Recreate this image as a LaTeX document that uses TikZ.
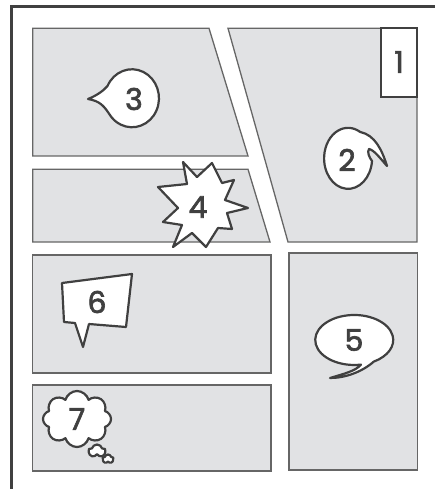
\documentclass[tikz,border=0pt]{standalone}
\usepackage{fontspec}
\setmainfont{Poppins}
\newfontfamily\digitfont{Poppins}[FakeBold=2.2]
\usetikzlibrary{shapes.symbols}
\definecolor{panelgray}{HTML}{E1E2E4}
\definecolor{edgegray}{HTML}{666666}
\definecolor{inkgray}{HTML}{404040}
\tikzset{
  panel/.style={draw=edgegray, line width=1.3pt, fill=panelgray},
  bubble/.style={draw=inkgray, line width=2.2pt, fill=white, line join=round},
  digit/.style={text=inkgray, font=\digitfont\fontsize{30}{30}\selectfont, inner sep=0pt}
}
\begin{document}
\begin{tikzpicture}[x=1pt, y=1pt, yscale=-1,
        frame/.style={draw=inkgray, line width=3pt},
        puff/.style={bubble, cloud, cloud puffs=9, aspect=1.2, inner sep=0pt}
    ]
        \useasboundingbox (0,0) rectangle (435,489);

        % Marco exterior (solo arriba e izquierda)
        \draw[frame] (11,489) -- (11,7) -- (435,7);

        % Paneles
        \draw[panel] (32.7,28.3) -- (209,28.3) -- (248,156) -- (32.7,156) -- cycle;
        \draw[panel] (32.7,169.3) -- (248,169.3) -- (270,242) -- (32.7,242) -- cycle;
        \draw[panel] (228,28.3) -- (417,28.3) -- (417,242) -- (288,242) -- cycle;
        \draw[panel] (32.7,255) rectangle (271,373);
        \draw[panel] (32.7,385) rectangle (271,471);
        \draw[panel] (289,253) rectangle (417.5,470);

        % Caja 1
        \draw[panel, fill=white, draw=inkgray, line width=1.8pt] (381,28.3) rectangle (417,97);
        \node[digit] (n1) at (399,62) {1};

        % Globo 3 (cola a la izquierda)
        \draw[bubble] (88,99) .. controls (98,95) and (104,90) .. (107.5,86)
            arc[start angle=205, end angle=505, x radius=27, y radius=29]
            .. controls (104,106) and (100,101) .. (88,99) -- cycle;
        \node[digit] (n3) at (134,99) {3};

        % Globo 2 (cola rizada a la derecha)
        \draw[bubble] (372,161) arc[start angle=5, end angle=300, x radius=24, y radius=30.5]
            .. controls (375,135) and (382,150) .. (387,166)
            .. controls (380,158) and (374,150) .. (369,149)
            .. controls (367,152) and (369,157) .. (372,161) -- cycle;
        \node[digit] (n2) at (347,160) {2};

        % Estallido 4
        \draw[bubble] (183,162) -- (197,177) -- (212,163) -- (222,183) -- (234,180)
            -- (225,200) -- (248,208) -- (227,213) -- (232,229) -- (218,228)
            -- (206,247) -- (192,233) -- (173,247) -- (182,225) -- (163,222)
            -- (178,208) -- (158,187) -- (187,184) -- cycle;
        \node[digit] (n4) at (198,207) {4};

        % Globo 5 (elipse, cola abajo)
        \draw[bubble] (361,364.6) arc[start angle=80, end angle=420, x radius=39, y radius=25]
            .. controls (362,372) and (345,378) .. (330,378)
            .. controls (343,374) and (356,371) .. (361,364.6) -- cycle;
        \node[digit] (n5) at (354,340) {5};

        % Globo 6 (cuadrilatero)
        \draw[bubble] (62,283) -- (132,274) -- (126,327) -- (89,324) -- (83,347)
            -- (75,323) -- (64,322) -- cycle;
        \node[digit] (n6) at (97,302) {6};

        % Nube 7 (pensamiento)
        \node[puff, cloud puffs=8, minimum width=68pt, minimum height=56pt] (n7) at (77,419) {};
        \node[digit] at (n7) {7};
        \node[puff, cloud puffs=5, minimum width=17pt, minimum height=13pt] (p1) at (97,451) {};
        \node[puff, cloud puffs=5, minimum width=11pt, minimum height=9pt] (p2) at (108,459) {};

    \end{tikzpicture}
\end{document}
